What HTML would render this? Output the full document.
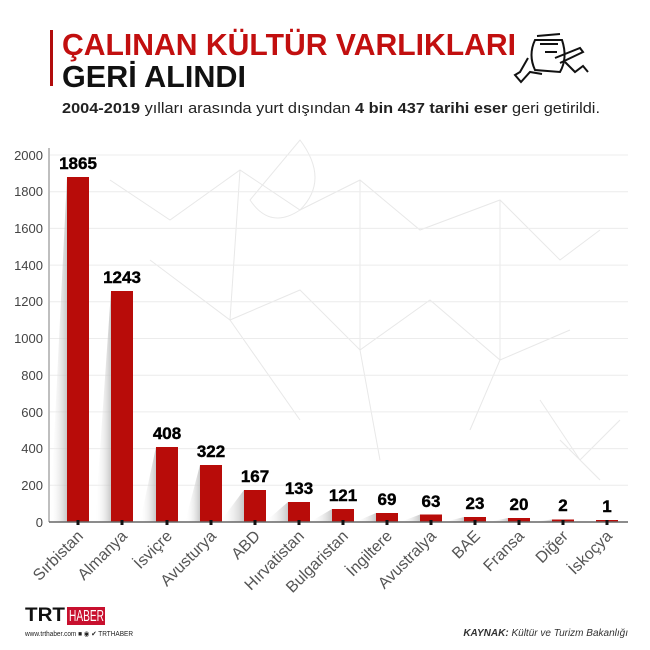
<!DOCTYPE html>
<html><head><meta charset="utf-8"><style>
html,body{margin:0;padding:0;background:#fff;}
svg{display:block;font-family:"Liberation Sans",sans-serif;}
</style></head><body>
<svg width="650" height="650" viewBox="0 0 650 650" xmlns="http://www.w3.org/2000/svg">
<defs>
<linearGradient id="sh" x1="0" y1="0" x2="1" y2="0">
<stop offset="0" stop-color="#fff" stop-opacity="0"/>
<stop offset="1" stop-color="#bbb" stop-opacity="0.8"/>
</linearGradient>
</defs>
<rect width="650" height="650" fill="#fff"/>
<rect x="50" y="30" width="3" height="56" fill="#b10c0c"/>
<text x="62" y="55" font-size="31" font-weight="bold" fill="#c20f0f" textLength="454" lengthAdjust="spacingAndGlyphs">ÇALINAN KÜLTÜR VARLIKLARI</text>
<text x="62" y="87" font-size="31" font-weight="bold" fill="#111" textLength="184" lengthAdjust="spacingAndGlyphs">GERİ ALINDI</text>
<text x="62" y="113" font-size="15" fill="#222" textLength="538" lengthAdjust="spacingAndGlyphs"><tspan font-weight="bold">2004-2019</tspan> yılları arasında yurt dışından <tspan font-weight="bold">4 bin 437 tarihi eser</tspan> geri getirildi.</text>
<g fill="none" stroke="#111" stroke-width="2">
<path d="M535 40 Q528 55 535 70 L560 72 Q568 58 562 40 Z"/>
<path d="M537 36 L560 34 M540 44 L558 44 M545 52 L557 52"/>
<path d="M555 58 L580 48 L583 52 L560 63"/>
<path d="M528 58 L520 72 L515 75 L521 82 L530 72 L542 74"/>
<path d="M565 62 L575 72 L583 66 L588 72"/>
</g>
<g fill="none" stroke="#e8e8e8" stroke-width="1">
<path d="M110 180 L170 220 L240 170 L300 210 L360 180 L420 230 L500 200 L560 260 L600 230"/>
<path d="M150 260 L230 320 L300 290 L360 350 L430 300 L500 360 L570 330"/>
<path d="M240 170 L230 320 L300 420 M360 180 L360 350 L380 460 M500 200 L500 360 L470 430"/>
<path d="M540 400 L580 460 L620 420 M560 440 L600 480"/>
<path d="M300 140 Q330 180 300 210 Q270 230 250 200 Z"/>
</g>
<g stroke="#ececec" stroke-width="1">
<line x1="50" y1="155" x2="628" y2="155"/><line x1="50" y1="191.7" x2="628" y2="191.7"/>
<line x1="50" y1="228.4" x2="628" y2="228.4"/><line x1="50" y1="265.1" x2="628" y2="265.1"/>
<line x1="50" y1="301.8" x2="628" y2="301.8"/><line x1="50" y1="338.5" x2="628" y2="338.5"/>
<line x1="50" y1="375.2" x2="628" y2="375.2"/><line x1="50" y1="411.9" x2="628" y2="411.9"/>
<line x1="50" y1="448.6" x2="628" y2="448.6"/><line x1="50" y1="485.3" x2="628" y2="485.3"/>
</g>
<line x1="49" y1="148" x2="49" y2="522" stroke="#aaa" stroke-width="1.5"/>
<g font-size="13" fill="#444" text-anchor="end">
<text x="43" y="160">2000</text><text x="43" y="196">1800</text><text x="43" y="233">1600</text>
<text x="43" y="270">1400</text><text x="43" y="306">1200</text><text x="43" y="343">1000</text>
<text x="43" y="380">800</text><text x="43" y="417">600</text><text x="43" y="453">400</text>
<text x="43" y="490">200</text><text x="43" y="527">0</text>
</g>
<g fill="url(#sh)">
<polygon points="50,522 67,177 67,522"/>
<polygon points="95,522 111,291 111,522"/>
<polygon points="140,522 156,447 156,522"/>
<polygon points="185,522 200,465 200,522"/>
<polygon points="220,522 244,490 244,522"/>
<polygon points="265,522 288,502 288,522"/>
<polygon points="310,522 332,509 332,522"/>
<polygon points="355,522 376,513 376,522"/>
<polygon points="400,522 420,514.5 420,522"/>
<polygon points="444,522 464,517 464,522"/>
<polygon points="488,522 508,518 508,522"/>
<polygon points="532,522 552,519.5 552,522"/>
</g>
<g fill="#b80c09">
<rect x="67" y="177" width="22" height="345"/>
<rect x="111" y="291" width="22" height="231"/>
<rect x="156" y="447" width="22" height="75"/>
<rect x="200" y="465" width="22" height="57"/>
<rect x="244" y="490" width="22" height="32"/>
<rect x="288" y="502" width="22" height="20"/>
<rect x="332" y="509" width="22" height="13"/>
<rect x="376" y="513" width="22" height="9"/>
<rect x="420" y="514.5" width="22" height="7.5"/>
<rect x="464" y="517" width="22" height="5"/>
<rect x="508" y="518" width="22" height="4"/>
<rect x="552" y="519.5" width="22" height="2.5"/>
<rect x="596" y="520" width="22" height="2"/>
</g>
<line x1="49" y1="522" x2="628" y2="522" stroke="#666" stroke-width="1.5"/>
<g fill="#111">
<rect x="76.5" y="520" width="3" height="5"/><rect x="120.5" y="520" width="3" height="5"/>
<rect x="165.5" y="520" width="3" height="5"/><rect x="209.5" y="520" width="3" height="5"/>
<rect x="253.5" y="520" width="3" height="5"/><rect x="297.5" y="520" width="3" height="5"/>
<rect x="341.5" y="520" width="3" height="5"/><rect x="385.5" y="520" width="3" height="5"/>
<rect x="429.5" y="520" width="3" height="5"/><rect x="473.5" y="520" width="3" height="5"/>
<rect x="517.5" y="520" width="3" height="5"/><rect x="561.5" y="520" width="3" height="5"/>
<rect x="605.5" y="520" width="3" height="5"/>
</g>
<g font-size="17" font-weight="bold" fill="#000" text-anchor="middle" stroke="#000" stroke-width="0.4">
<text x="78" y="169">1865</text><text x="122" y="283">1243</text><text x="167" y="439">408</text>
<text x="211" y="457">322</text><text x="255" y="482">167</text><text x="299" y="494">133</text>
<text x="343" y="501">121</text><text x="387" y="505">69</text><text x="431" y="507">63</text>
<text x="475" y="509">23</text><text x="519" y="510">20</text><text x="563" y="511">2</text>
<text x="607" y="512">1</text>
</g>
<g font-size="16" fill="#555" text-anchor="end">
<text transform="translate(84,537) rotate(-45)">Sırbistan</text>
<text transform="translate(128,537) rotate(-45)">Almanya</text>
<text transform="translate(173,537) rotate(-45)">İsviçre</text>
<text transform="translate(217,537) rotate(-45)">Avusturya</text>
<text transform="translate(261,537) rotate(-45)">ABD</text>
<text transform="translate(305,537) rotate(-45)">Hırvatistan</text>
<text transform="translate(349,537) rotate(-45)">Bulgaristan</text>
<text transform="translate(393,537) rotate(-45)">İngiltere</text>
<text transform="translate(437,537) rotate(-45)">Avustralya</text>
<text transform="translate(481,537) rotate(-45)">BAE</text>
<text transform="translate(525,537) rotate(-45)">Fransa</text>
<text transform="translate(569,537) rotate(-45)">Diğer</text>
<text transform="translate(613,537) rotate(-45)">İskoçya</text>
</g>
<text x="25" y="621" font-size="19" font-weight="bold" fill="#111" textLength="40" lengthAdjust="spacingAndGlyphs">TRT</text>
<rect x="67" y="607" width="38" height="18" fill="#c8102e"/>
<text x="69" y="621" font-size="16" fill="#fff" textLength="35" lengthAdjust="spacingAndGlyphs">HABER</text>
<text x="25" y="636" font-size="7" fill="#222" textLength="108" lengthAdjust="spacingAndGlyphs">www.trthaber.com ■ ◉ ✔ TRTHABER</text>
<text x="628" y="636" font-size="10" fill="#333" text-anchor="end" font-style="italic"><tspan font-weight="bold">KAYNAK:</tspan> Kültür ve Turizm Bakanlığı</text>
</svg>
</body></html>
